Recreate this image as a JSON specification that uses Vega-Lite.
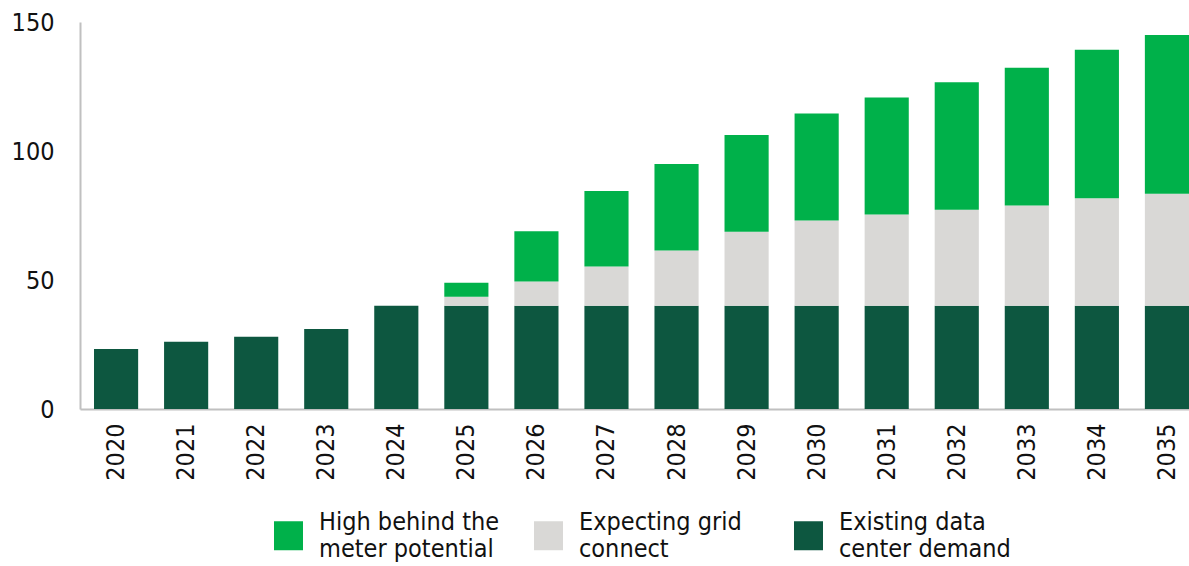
{
  "$schema": "https://vega.github.io/schema/vega-lite/v6.json",
  "autosize": "none",
  "width": 1109,
  "height": 387,
  "padding": {"left": 80, "top": 22, "right": 0, "bottom": 157},
  "background": "white",
  "config": {
    "view": {"stroke": null},
    "font": "DejaVu Sans Condensed, DejaVu Sans",
    "axis": {"labelFont": "DejaVu Sans Condensed, DejaVu Sans", "labelFontSize": 25, "labelColor": "#111111", "ticks": false, "grid": false, "domainColor": "#c0c0c0", "domainWidth": 2, "title": null},
    "legend": {"labelFont": "DejaVu Sans Condensed, DejaVu Sans", "labelFontSize": 25, "labelColor": "#111111"}
  },
  "data": {
    "values": [
      {"year": "2020", "series": "Existing data center demand", "rank": 1, "value": 23.3},
      {"year": "2021", "series": "Existing data center demand", "rank": 1, "value": 26.1},
      {"year": "2022", "series": "Existing data center demand", "rank": 1, "value": 28.0},
      {"year": "2023", "series": "Existing data center demand", "rank": 1, "value": 31.0},
      {"year": "2024", "series": "Existing data center demand", "rank": 1, "value": 40.0},
      {"year": "2025", "series": "Existing data center demand", "rank": 1, "value": 40.0},
      {"year": "2025", "series": "Expecting grid connect", "rank": 2, "value": 3.5},
      {"year": "2025", "series": "High behind the meter potential", "rank": 3, "value": 5.4},
      {"year": "2026", "series": "Existing data center demand", "rank": 1, "value": 40.0},
      {"year": "2026", "series": "Expecting grid connect", "rank": 2, "value": 9.4},
      {"year": "2026", "series": "High behind the meter potential", "rank": 3, "value": 19.5},
      {"year": "2027", "series": "Existing data center demand", "rank": 1, "value": 40.0},
      {"year": "2027", "series": "Expecting grid connect", "rank": 2, "value": 15.2},
      {"year": "2027", "series": "High behind the meter potential", "rank": 3, "value": 29.3},
      {"year": "2028", "series": "Existing data center demand", "rank": 1, "value": 40.0},
      {"year": "2028", "series": "Expecting grid connect", "rank": 2, "value": 21.4},
      {"year": "2028", "series": "High behind the meter potential", "rank": 3, "value": 33.6},
      {"year": "2029", "series": "Existing data center demand", "rank": 1, "value": 40.0},
      {"year": "2029", "series": "Expecting grid connect", "rank": 2, "value": 28.7},
      {"year": "2029", "series": "High behind the meter potential", "rank": 3, "value": 37.5},
      {"year": "2030", "series": "Existing data center demand", "rank": 1, "value": 40.0},
      {"year": "2030", "series": "Expecting grid connect", "rank": 2, "value": 33.1},
      {"year": "2030", "series": "High behind the meter potential", "rank": 3, "value": 41.4},
      {"year": "2031", "series": "Existing data center demand", "rank": 1, "value": 40.0},
      {"year": "2031", "series": "Expecting grid connect", "rank": 2, "value": 35.4},
      {"year": "2031", "series": "High behind the meter potential", "rank": 3, "value": 45.3},
      {"year": "2032", "series": "Existing data center demand", "rank": 1, "value": 40.0},
      {"year": "2032", "series": "Expecting grid connect", "rank": 2, "value": 37.2},
      {"year": "2032", "series": "High behind the meter potential", "rank": 3, "value": 49.4},
      {"year": "2033", "series": "Existing data center demand", "rank": 1, "value": 40.0},
      {"year": "2033", "series": "Expecting grid connect", "rank": 2, "value": 38.9},
      {"year": "2033", "series": "High behind the meter potential", "rank": 3, "value": 53.4},
      {"year": "2034", "series": "Existing data center demand", "rank": 1, "value": 40.0},
      {"year": "2034", "series": "Expecting grid connect", "rank": 2, "value": 41.7},
      {"year": "2034", "series": "High behind the meter potential", "rank": 3, "value": 57.5},
      {"year": "2035", "series": "Existing data center demand", "rank": 1, "value": 40.0},
      {"year": "2035", "series": "Expecting grid connect", "rank": 2, "value": 43.4},
      {"year": "2035", "series": "High behind the meter potential", "rank": 3, "value": 61.6}
    ]
  },
  "mark": {"type": "bar"},
  "encoding": {
    "x": {
      "field": "year", "type": "ordinal",
      "scale": {"paddingInner": 0.37, "paddingOuter": 0.1, "align": 1},
      "axis": {"labelAngle": -90, "labelPadding": 14}
    },
    "y": {
      "field": "value", "type": "quantitative", "stack": "zero",
      "scale": {"domain": [0, 150], "nice": false},
      "axis": {"values": [0, 50, 100, 150], "labelPadding": 26}
    },
    "color": {
      "field": "series", "type": "nominal",
      "scale": {
        "domain": ["High behind the meter potential", "Expecting grid connect", "Existing data center demand"],
        "range": ["#00b14a", "#d9d8d6", "#0d5740"]
      },
      "legend": {
        "title": null,
        "orient": "none",
        "legendX": 194,
        "legendY": 499,
        "direction": "horizontal",
        "columns": 3,
        "gridAlign": "all",
        "columnPadding": 34,
        "padding": 0,
        "symbolType": "square",
        "symbolSize": 841,
        "symbolStrokeWidth": 0,
        "symbolOpacity": 1,
        "labelOffset": 16,
        "labelLimit": 400,
        "labelLineHeight": 30,
        "labelBaseline": "line-bottom",
        "labelExpr": "datum.label == 'High behind the meter potential' ? ['High behind the', 'meter potential'] : datum.label == 'Expecting grid connect' ? ['Expecting grid', 'connect'] : ['Existing data', 'center demand']"
      }
    },
    "order": {"field": "rank", "type": "quantitative", "sort": "ascending"}
  }
}
